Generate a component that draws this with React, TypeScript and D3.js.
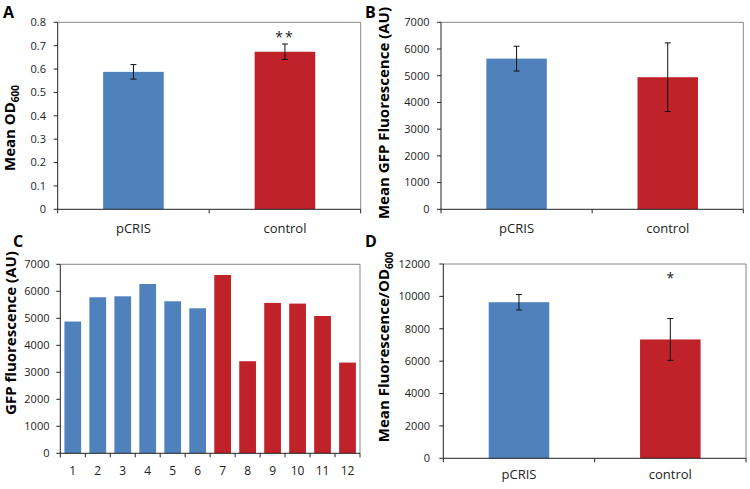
import React from "react";
import * as d3 from "d3";

const groupCategories = ["pCRIS", "control"];
const odMeans = [0.588, 0.674];
const odErrors = [0.031, 0.033];
const gfpMeans = [5640, 4945];
const gfpErrors = [465, 1285];
const wellLabels = ["1", "2", "3", "4", "5", "6", "7", "8", "9", "10", "11", "12"];
const wellValues = [4880, 5780, 5815, 6270, 5630, 5370, 6605, 3410, 5570, 5545, 5085, 3360];
const wellGroup = ["pCRIS", "pCRIS", "pCRIS", "pCRIS", "pCRIS", "pCRIS", "control", "control", "control", "control", "control", "control"];
const ratioMeans = [9640, 7340];
const ratioErrors = [480, 1290];

const BLUE = "#4F81BD";
const RED = "#C0222A";
const colorOf = (g: string) => (g === "pCRIS" ? BLUE : RED);
const FONT = "'Open Sans', sans-serif";

type PanelProps = {
  letter: string;
  letterX: number;
  letterY: number;
  x0: number;
  x1: number;
  top: number;
  bottom: number;
  max: number;
  step: number;
  fmt: (v: number) => string;
  cats: string[];
  values: number[];
  groups: string[];
  errors?: number[];
  padding: number;
  tickLabelRight: number;
  xLabelY: number;
  xLabelSize: number;
  yLabel: React.ReactNode;
  yLabelX: number;
  yLabelY: number;
  yLabelSize: number;
  stars?: (string | null)[];
  starY?: number;
};

function Panel(p: PanelProps) {
  const x = d3
    .scaleBand<string>()
    .domain(p.cats)
    .range([p.x0, p.x1])
    .paddingInner(p.padding)
    .paddingOuter(p.padding / 2);
  const y = d3.scaleLinear().domain([0, p.max]).range([p.bottom, p.top]);
  const ticks = d3.range(0, p.max + p.step / 2, p.step);
  const stepW = x.step();
  const boundaries = d3.range(0, p.cats.length + 1).map((i) => p.x0 + i * stepW);
  return (
    <g>
      <text x={p.letterX} y={p.letterY} fontFamily={FONT} fontWeight="bold" fontSize={16} fill="#000">
        {p.letter}
      </text>
      {p.values.map((v, i) => (
        <rect
          key={i}
          x={x(p.cats[i])}
          y={y(v)}
          width={x.bandwidth()}
          height={y(0) - y(v)}
          fill={colorOf(p.groups[i])}
        />
      ))}
      {p.errors &&
        p.values.map((v, i) => {
          const cx = (x(p.cats[i]) as number) + x.bandwidth() / 2;
          const e = p.errors![i];
          return (
            <g key={"e" + i} stroke="#111" strokeWidth={1}>
              <line x1={cx} x2={cx} y1={y(v + e)} y2={y(v - e)} />
              <line x1={cx - 3} x2={cx + 3} y1={y(v + e)} y2={y(v + e)} />
              <line x1={cx - 3} x2={cx + 3} y1={y(v - e)} y2={y(v - e)} />
            </g>
          );
        })}
      {p.stars &&
        p.stars.map((s, i) =>
          s ? (
            <text
              key={"s" + i}
              x={(x(p.cats[i]) as number) + x.bandwidth() / 2}
              y={p.starY}
              textAnchor="middle"
              fontFamily={FONT}
              fontSize={14}
              letterSpacing={s.length > 1 ? 2 : 0}
              fill="#222"
            >
              {s}
            </text>
          ) : null
        )}
      <line x1={p.x0} x2={p.x1} y1={p.top} y2={p.top} stroke="#868686" strokeWidth={1} />
      <line x1={p.x1} x2={p.x1} y1={p.top} y2={p.bottom} stroke="#868686" strokeWidth={1} />
      <line x1={p.x0} x2={p.x0} y1={p.top} y2={p.bottom} stroke="#222" strokeWidth={1} />
      <line x1={p.x0} x2={p.x1} y1={p.bottom} y2={p.bottom} stroke="#222" strokeWidth={1} />
      {ticks.map((t, i) => (
        <g key={"yt" + i}>
          <line x1={p.x0 - 4} x2={p.x0} y1={y(t)} y2={y(t)} stroke="#222" />
          <text
            x={p.tickLabelRight}
            y={y(t)}
            dy="0.35em"
            textAnchor="end"
            fontFamily={FONT}
            fontSize={11}
            fill="#222"
          >
            {p.fmt(t)}
          </text>
        </g>
      ))}
      {boundaries.map((bx, i) => (
        <line key={"xt" + i} x1={bx} x2={bx} y1={p.bottom} y2={p.bottom + 4} stroke="#222" />
      ))}
      {p.cats.map((c, i) => (
        <text
          key={"xl" + i}
          x={(x(c) as number) + x.bandwidth() / 2}
          y={p.xLabelY}
          textAnchor="middle"
          fontFamily={FONT}
          fontSize={p.xLabelSize}
          fill="#222"
        >
          {c}
        </text>
      ))}
      <text
        transform={`translate(${p.yLabelX},${p.yLabelY}) rotate(-90)`}
        textAnchor="middle"
        fontFamily={FONT}
        fontWeight="bold"
        fontSize={p.yLabelSize}
        fill="#000"
      >
        {p.yLabel}
      </text>
    </g>
  );
}

const fmt1 = (v: number) => String(+v.toFixed(1));
const fmt0 = (v: number) => String(Math.round(v));

export default function App() {
  return (
    <svg
      width={750}
      height={489}
      style={{ position: "absolute", left: 0, top: 0, background: "#fff" }}
    >
      <rect width={750} height={489} fill="#fff" />
      <Panel
        letter="A"
        letterX={3}
        letterY={18}
        x0={57.7}
        x1={360.7}
        top={22.3}
        bottom={209.3}
        max={0.8}
        step={0.1}
        fmt={fmt1}
        cats={groupCategories}
        values={odMeans}
        groups={groupCategories}
        errors={odErrors}
        padding={0.6}
        tickLabelRight={46}
        xLabelY={233}
        xLabelSize={13}
        yLabel={
          <>
            Mean OD
            <tspan fontSize={10} dy={4}>600</tspan>
          </>
        }
        yLabelX={15}
        yLabelY={128}
        yLabelSize={15}
        stars={[null, "**"]}
        starY={42}
      />
      <Panel
        letter="B"
        letterX={365}
        letterY={18}
        x0={441}
        x1={743.3}
        top={22.3}
        bottom={209.3}
        max={7000}
        step={1000}
        fmt={fmt0}
        cats={groupCategories}
        values={gfpMeans}
        groups={groupCategories}
        errors={gfpErrors}
        padding={0.6}
        tickLabelRight={429.5}
        xLabelY={233}
        xLabelSize={13}
        yLabel={"Mean GFP Fluorescence (AU)"}
        yLabelX={389}
        yLabelY={113}
        yLabelSize={15}
      />
      <Panel
        letter="C"
        letterX={13}
        letterY={247}
        x0={60.3}
        x1={360}
        top={264.3}
        bottom={453.3}
        max={7000}
        step={1000}
        fmt={fmt0}
        cats={wellLabels}
        values={wellValues}
        groups={wellGroup}
        padding={0.33}
        tickLabelRight={49.5}
        xLabelY={475}
        xLabelSize={12}
        yLabel={"GFP fluorescence (AU)"}
        yLabelX={16}
        yLabelY={333}
        yLabelSize={15}
      />
      <Panel
        letter="D"
        letterX={365}
        letterY={247}
        x0={443.3}
        x1={746}
        top={264}
        bottom={458.3}
        max={12000}
        step={2000}
        fmt={fmt0}
        cats={groupCategories}
        values={ratioMeans}
        groups={groupCategories}
        errors={ratioErrors}
        padding={0.6}
        tickLabelRight={430}
        xLabelY={479}
        xLabelSize={13}
        yLabel={
          <>
            Mean Fluorescence/OD
            <tspan fontSize={10} dy={4}>600</tspan>
          </>
        }
        yLabelX={389}
        yLabelY={347}
        yLabelSize={15}
        stars={[null, "*"]}
        starY={283}
      />
    </svg>
  );
}
